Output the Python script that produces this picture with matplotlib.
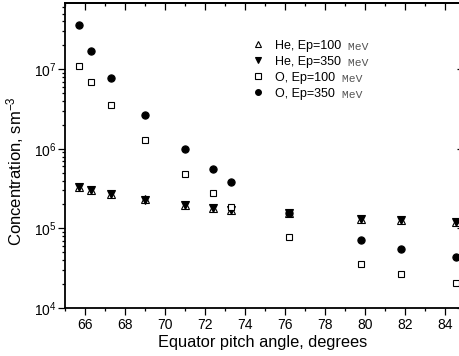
import matplotlib
matplotlib.use("Agg")

import matplotlib.pyplot as plt
from matplotlib.ticker import LogLocator, NullFormatter, MultipleLocator

plt.rcParams["font.family"] = ["Liberation Sans", "DejaVu Sans"]
plt.rcParams["mathtext.fontset"] = "custom"
plt.rcParams["mathtext.rm"] = "Liberation Sans"
plt.rcParams["mathtext.it"] = "Liberation Sans:italic"
plt.rcParams["mathtext.bf"] = "Liberation Sans:bold"

# Equator pitch angles, degrees
pitch = [65.7, 66.3, 67.3, 69.0, 71.0, 72.4, 73.3, 76.2, 79.8, 81.8, 84.55]

# Concentrations, sm^-3
he_100 = [3.3e5, 3.05e5, 2.72e5, 2.32e5, 1.96e5, 1.8e5, 1.7e5, 1.55e5, 1.31e5, 1.28e5, 1.2e5]
he_350 = [3.28e5, 3.03e5, 2.7e5, 2.3e5, 1.95e5, 1.79e5, 1.69e5, 1.54e5, 1.3e5, 1.27e5, 1.19e5]
o_100 = [1.09e7, 6.9e6, 3.58e6, 1.29e6, 4.8e5, 2.77e5, 1.88e5, 7.7e4, 3.55e4, 2.7e4, 2.05e4]
o_350 = [3.56e7, 1.71e7, 7.75e6, 2.68e6, 9.9e5, 5.62e5, 3.8e5, 1.57e5, 7.15e4, 5.56e4, 4.38e4]

labels = ["He, Ep=100", "He, Ep=350", "O, Ep=100", "O, Ep=350"]

fig = plt.figure(figsize=(4.6, 3.56), dpi=100)
ax = fig.add_axes([65 / 460, 48 / 356, 396 / 460, 305 / 356])

ax.plot(pitch, he_100, ls="none", marker="^", ms=5.5, mfc="white", mec="black", mew=0.8, label=labels[0])
ax.plot(pitch, he_350, ls="none", marker="v", ms=5.5, mfc="black", mec="black", mew=0.8, label=labels[1])
ax.plot(pitch, o_100, ls="none", marker="s", ms=4.6, mfc="white", mec="black", mew=0.8, label=labels[2])
ax.plot(pitch, o_350, ls="none", marker="o", ms=5.2, mfc="black", mec="black", mew=0.8, label=labels[3])

ax.set_yscale("log")
ax.set_xlim(65, 84.8)
ax.set_ylim(1e4, 6.8e7)

ax.xaxis.set_major_locator(MultipleLocator(2))
ax.xaxis.set_minor_locator(MultipleLocator(1))
ax.yaxis.set_major_locator(LogLocator(base=10))
ax.yaxis.set_minor_locator(LogLocator(base=10, subs=range(2, 10)))
ax.yaxis.set_minor_formatter(NullFormatter())

for s in ax.spines.values():
    s.set_linewidth(1.3)

# bottom / left ticks point outward
ax.tick_params(axis="x", which="major", direction="out", length=5, width=0.9,
               labelsize=10, pad=2)
ax.tick_params(axis="x", which="minor", direction="out", length=2.5, width=0.9)
ax.tick_params(axis="y", which="major", direction="out", length=5, width=0.9,
               labelsize=10, pad=1)
ax.tick_params(axis="y", which="minor", direction="out", length=2.5, width=0.9)

# mirrored ticks on top and right point inward
sec_x = ax.secondary_xaxis("top")
sec_x.xaxis.set_major_locator(MultipleLocator(2))
sec_x.xaxis.set_minor_locator(MultipleLocator(1))
sec_x.tick_params(which="major", direction="in", length=5, width=0.9, labeltop=False)
sec_x.tick_params(which="minor", direction="in", length=2.5, width=0.9)
sec_x.spines["top"].set_linewidth(1.3)

sec_y = ax.secondary_yaxis("right")
sec_y.yaxis.set_major_locator(LogLocator(base=10))
sec_y.yaxis.set_minor_locator(LogLocator(base=10, subs=range(2, 10)))
sec_y.tick_params(which="major", direction="in", length=3, width=0.9, labelright=False)
sec_y.tick_params(which="minor", length=0, labelright=False)

ax.set_xlabel("Equator pitch angle, degrees", fontsize=11.8, labelpad=2)
ax.set_ylabel("Concentration, sm$^{-3}$", fontsize=12)
ax.yaxis.set_label_coords(-0.098, 0.45)

leg = ax.legend(loc="upper left", bbox_to_anchor=(0.472, 0.88), frameon=False,
                fontsize=9, handlelength=1.0, handletextpad=0.85,
                labelspacing=0.32, borderpad=0, borderaxespad=0, markerscale=0.8)
for t in leg.get_texts():
    ax.annotate(" MeV", xy=(1, 0), xycoords=t, va="bottom", ha="left",
                fontsize=8.2, family="Liberation Mono", color="#555555", zorder=6)

fig.canvas.draw()
fig.savefig("out.png", dpi=100)
